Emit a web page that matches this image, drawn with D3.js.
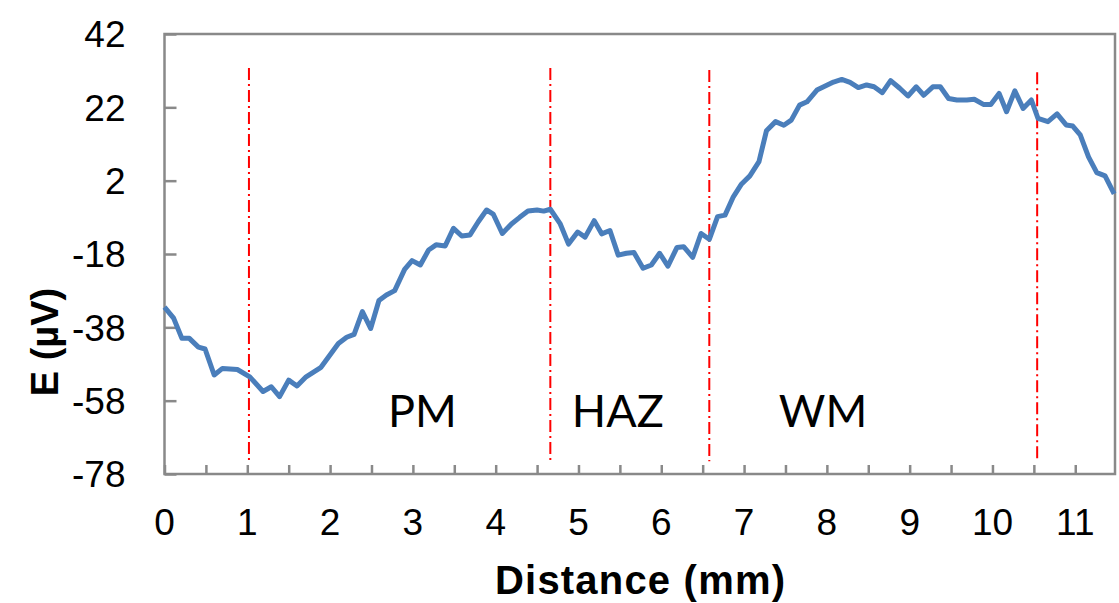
<!DOCTYPE html>
<html>
<head>
    <meta charset="UTF-8">
    <title>E vs distance</title>
    <style>
        body { margin: 0; background: #fff; }
        .axis-title { font-family: 'Liberation Sans', Arial, sans-serif; font-weight: bold; fill: #000; }
        .zone { font-family: Lato, 'Open Sans', sans-serif; font-size: 45px; fill: #000; }
    </style>
</head>
<body>
    <script src="https://d3js.org/d3.v7.min.js"></script>
    <script>
        // data
        var distance = [0, 0.11, 0.21, 0.30, 0.41, 0.49, 0.60, 0.70, 0.88, 1.03, 1.19, 1.29, 1.39, 1.50, 1.60, 1.71, 1.89,
            2.10, 2.20, 2.29, 2.39, 2.49, 2.59, 2.68, 2.78, 2.90, 2.99, 3.09, 3.19, 3.28, 3.39, 3.49, 3.59, 3.69, 3.79,
            3.89, 3.97, 4.08, 4.19, 4.29, 4.39, 4.50, 4.58, 4.66, 4.78, 4.88, 4.99, 5.08, 5.19, 5.28, 5.38, 5.48, 5.58,
            5.67, 5.78, 5.88, 5.98, 6.08, 6.19, 6.27, 6.38, 6.48, 6.58, 6.68, 6.77, 6.87, 6.97, 7.07, 7.18, 7.27, 7.38,
            7.48, 7.57, 7.67, 7.76, 7.88, 7.98, 8.08, 8.18, 8.28, 8.38, 8.48, 8.57, 8.67, 8.77, 8.88, 8.98, 9.08, 9.17,
            9.28, 9.37, 9.47, 9.57, 9.69, 9.78, 9.89, 9.98, 10.08, 10.17, 10.27, 10.37, 10.47, 10.55, 10.67, 10.78,
            10.89, 10.97, 11.06, 11.16, 11.26, 11.36, 11.47];
        var potential = [-32.5, -35.5, -41, -41, -43.4, -43.9, -51, -49.2, -49.5, -51.5, -55.5, -54.2, -56.9, -52.4, -54, -51.5, -48.9,
            -42.4, -40.7, -39.9, -33.7, -38.3, -30.7, -29.2, -28, -22.2, -19.8, -21, -16.9, -15.5, -15.8, -11, -13.1, -12.8, -9.2,
            -6, -7.1, -12.4, -9.8, -8, -6.3, -6, -6.3, -5.8, -9.8, -15.3, -12, -13.4, -8.9, -12.5, -11.6, -18.3, -17.8,
            -17.6, -21.9, -21, -17.8, -21.3, -16.2, -16, -18.9, -12.4, -14, -7.8, -7.4, -2.4, 1.1, 3.3, 7.2, 15.6, 18.1,
            17.1, 18.5, 22.6, 23.5, 26.7, 27.8, 28.9, 29.6, 28.8, 27.4, 28.1, 27.6, 26, 29.3, 27.2, 25.1, 27.6, 25.3,
            27.6, 27.6, 24.4, 24, 24, 24.2, 22.8, 22.8, 25.8, 20.8, 26.5, 21.7, 24, 19, 18.1, 20.2,
            17.2, 16.9, 14.5, 8.5, 4.2, 3.3, -1.6];

        var yTicks = [42, 22, 2, -18, -38, -58, -78];
        var xLabels = [0, 1, 2, 3, 4, 5, 6, 7, 8, 9, 10, 11];
        var xMinor = d3.range(0, 11.01, 0.5);

        // zone boundaries (mm) and their extent (µV)
        var boundaries = [1.02, 4.66, 6.58, 10.54];
        var boundTop = [32.7, 32.7, 32.2, 31.6];
        var boundBottom = [-74.7, -74.7, -74.5, -74.2];

        var zoneNames = ["PM", "HAZ", "WM"];
        var zoneX = [2.70, 4.92, 7.42];
        var zoneY = -65.2;

        /// layout
        var width = 1119, height = 603;
        var plot = {left: 164.5, right: 1115, top: 34, bottom: 474};

        var svg = d3.select("body").append("svg")
            .attr("width", width)
            .attr("height", height);

        var x = d3.scaleLinear().domain([0, 11.48]).range([plot.left, plot.right]);
        var y = d3.scaleLinear().domain([-78, 42]).range([plot.bottom, plot.top]);

        // plot box
        svg.append("rect")
            .attr("x", plot.left).attr("y", plot.top)
            .attr("width", plot.right - plot.left).attr("height", plot.bottom - plot.top)
            .attr("fill", "none")
            .attr("stroke", "#898989")
            .attr("stroke-width", 2.5);

        // y axis, ticks pointing inside
        var yAxis = svg.append("g")
            .attr("transform", "translate(" + plot.left + ",0)")
            .call(d3.axisRight(y).tickValues(yTicks).tickSize(12).tickFormat(""));
        yAxis.select(".domain").remove();
        yAxis.selectAll("line").attr("stroke", "#898989").attr("stroke-width", 2.5);

        svg.append("g").selectAll("text")
            .data(yTicks)
            .enter().append("text")
            .attr("x", plot.left - 39)
            .attr("y", function(d) { return y(d); })
            .attr("dy", "0.36em")
            .attr("text-anchor", "end")
            .style("font-family", "'Liberation Sans', Arial, sans-serif")
            .style("font-size", "37px")
            .text(function(d) { return d; });

        // x axis, ticks pointing inside
        var xAxis = svg.append("g")
            .attr("transform", "translate(0," + plot.bottom + ")")
            .call(d3.axisTop(x).tickValues(xMinor).tickSize(9).tickFormat(""));
        xAxis.select(".domain").remove();
        xAxis.selectAll("line").attr("stroke", "#898989").attr("stroke-width", 2.5);

        svg.append("g").selectAll("text")
            .data(xLabels)
            .enter().append("text")
            .attr("x", function(d) { return x(d); })
            .attr("y", 535)
            .attr("text-anchor", "middle")
            .style("font-family", "'Liberation Sans', Arial, sans-serif")
            .style("font-size", "37px")
            .text(function(d) { return d; });

        // axis titles
        svg.append("text")
            .attr("class", "axis-title")
            .attr("x", 640)
            .attr("y", 594)
            .attr("text-anchor", "middle")
            .attr("textLength", 290)
            .style("font-size", "40px")
            .text("Distance (mm)");

        svg.append("text")
            .attr("class", "axis-title")
            .attr("transform", "translate(58,342) rotate(-90)")
            .attr("text-anchor", "middle")
            .style("font-size", "38px")
            .text("E (µV)");

        // boundaries
        svg.append("g").selectAll("line")
            .data(boundaries)
            .enter().append("line")
            .attr("x1", function(d) { return x(d); })
            .attr("x2", function(d) { return x(d); })
            .attr("y1", function(d, i) { return y(boundTop[i]); })
            .attr("y2", function(d, i) { return y(boundBottom[i]); })
            .attr("stroke", "#ff0000")
            .attr("stroke-width", 2)
            .attr("stroke-dasharray", "12,4,2,4");

        // series
        var pts = distance.map(function(d, i) { return [d, potential[i]]; });
        var line = d3.line()
            .x(function(d) { return x(d[0]); })
            .y(function(d) { return y(d[1]); });

        svg.append("path")
            .datum(pts)
            .attr("d", line)
            .attr("fill", "none")
            .attr("stroke", "#4a7ebb")
            .attr("stroke-width", 5)
            .attr("stroke-linejoin", "round");

        // zone labels
        svg.append("g").selectAll("text")
            .data(zoneNames)
            .enter().append("text")
            .attr("class", "zone")
            .attr("x", function(d, i) { return x(zoneX[i]); })
            .attr("y", y(zoneY))
            .text(function(d) { return d; });
    </script>
</body>
</html>
